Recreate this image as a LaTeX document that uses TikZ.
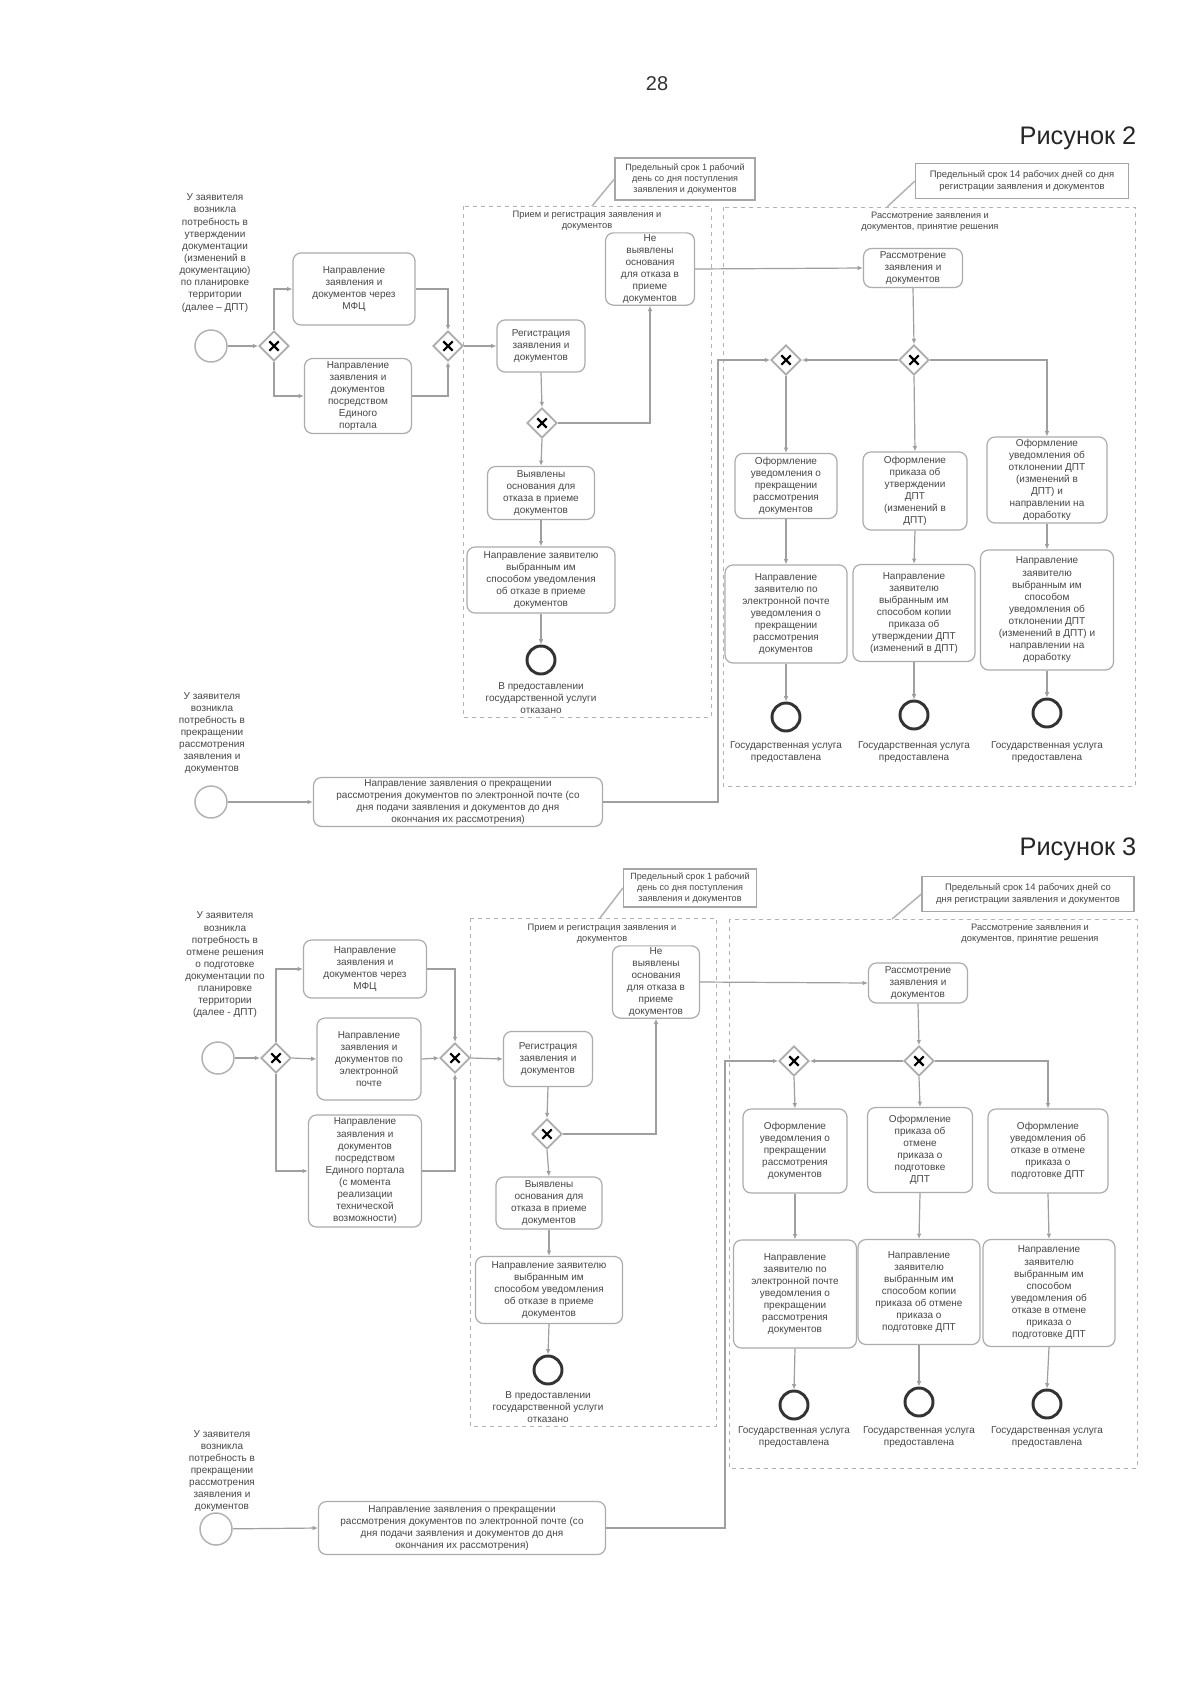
\documentclass[tikz,border=0pt]{standalone}
\usepackage{fontspec}
\setmainfont{Liberation Sans}
\usetikzlibrary{shapes.geometric,arrows.meta}

\begin{document}
\begin{tikzpicture}[x=0.75pt,y=-0.75pt,
    txt/.style={text=black!72, font=\fontsize{7.5pt}{9.1pt}\selectfont, align=center, inner sep=1pt},
    task/.style={txt, draw=gray!65, line width=0.9pt, rounded corners=6pt, fill=white},
    boxsize/.style 2 args={minimum width=#1*0.75pt, minimum height=#2*0.75pt},
    gate/.style={diamond, draw=gray!65, line width=1.3pt, fill=white, minimum size=30*0.75pt, inner sep=0pt,
        path picture={\draw[black, line width=1.6pt]
            ([shift={(-3.5pt,-3.5pt)}]path picture bounding box.center) -- ([shift={(3.5pt,3.5pt)}]path picture bounding box.center)
            ([shift={(-3.5pt,3.5pt)}]path picture bounding box.center) -- ([shift={(3.5pt,-3.5pt)}]path picture bounding box.center);}},
    startev/.style={circle, draw=gray!60, line width=1.1pt, minimum size=32*0.75pt, inner sep=0pt},
    stopev/.style={circle, draw=black!80, line width=2.2pt, minimum size=28*0.75pt, inner sep=0pt},
    flow/.style={draw=gray!75, line width=0.9pt, -{Latex[length=4pt,width=3.5pt]}},
    lane/.style={draw=gray!60, dashed, line width=0.7pt},
    lanetitle/.style={txt, font=\fontsize{7pt}{8.4pt}\selectfont},
    note/.style={txt, draw=gray!70, line width=0.9pt, fill=white, font=\fontsize{6.8pt}{8pt}\selectfont},
    assoc/.style={draw=gray!60, line width=1.1pt},
    ]
    \useasboundingbox (0,0) rectangle (1200,1696);
    \fill[white] (0,0) rectangle (1200,1696);

    % номер страницы
    \node[font=\fontsize{15pt}{18pt}\selectfont, text=black!80] (pnum) at (657,84) {28};

    % ===== Рисунок 2 =====
    \node[anchor=east, font=\fontsize{19pt}{22pt}\selectfont, text=black!85] (cap2) at (1141,138) {Рисунок 2};

    % дорожки
    \draw[lane] (463,206) rectangle (711,717);
    \node[lanetitle] (lt1) at (587,221) {Прием и регистрация заявления и\\документов};
    \draw[lane] (723,207) rectangle (1135,786);
    \node[lanetitle] (lt2) at (930,222) {Рассмотрение заявления и\\документов, принятие решения};

    % сроки
    \node[note, boxsize={140}{42}] (n1) at (685,179) {Предельный срок 1 рабочий\\день со дня поступления\\заявления и документов};
    \coordinate (a1) at (592,206);
    \draw[assoc] (n1.west) -- (a1);
    \node[note, boxsize={213}{35}, font=\fontsize{7.1pt}{8.4pt}\selectfont] (n2) at (1022,181) {Предельный срок 14 рабочих дней со дня\\регистрации заявления и документов};
    \coordinate (a2) at (887,207);
    \draw[assoc] (n2.west) -- (a2);

    % подача
    \node[txt] (q1) at (215,253) {У заявителя\\возникла\\потребность в\\утверждении\\документации\\(изменений в\\документацию)\\по планировке\\территории\\(далее – ДПТ)};
    \node[startev] (s1) at (211,346) {};
    \node[gate] (g1) at (274,346) {};
    \node[task, boxsize={122}{72}] (t1) at (354,289) {Направление\\заявления и\\документов через\\МФЦ};
    \node[task, boxsize={107}{75}] (t2) at (358,396) {Направление\\заявления и\\документов\\посредством\\Единого\\портала};
    \node[gate] (g2) at (448,346) {};
    \draw[flow] (s1) -- (g1);
    \draw[flow] (g1.north) |- (t1.west);
    \draw[flow] (g1.south) |- (t2.west);
    \draw[flow] (t1.east) -| (g2.north);
    \draw[flow] (t2.east) -| (g2.south);

    % прием и регистрация
    \node[task, boxsize={88}{52}] (reg) at (541,346) {Регистрация\\заявления и\\документов};
    \node[gate] (g3) at (542,423) {};
    \node[task, boxsize={89}{72}] (ok) at (650,269) {Не\\выявлены\\основания\\для отказа в\\приеме\\документов};
    \node[task, boxsize={107}{53}] (rej) at (541,493) {Выявлены\\основания для\\отказа в приеме\\документов};
    \node[task, boxsize={148}{66}] (ntf) at (541,580) {Направление заявителю\\выбранным им\\способом уведомления\\об отказе в приеме\\документов};
    \node[stopev] (e1) at (541,660) {};
    \node[txt] (l1) at (541,698) {В предоставлении\\государственной услуги\\отказано};
    \draw[flow] (g2.east) -- (reg.west);
    \draw[flow] (reg.south) -- (g3.north);
    \draw[flow] (g3.east) -| (ok.south);
    \draw[flow] (g3.south) -- (rej.north);
    \draw[flow] (rej.south) -- (ntf.north);
    \draw[flow] (ntf.south) -- (e1.north);

    % рассмотрение
    \node[task, boxsize={99}{39}] (rev) at (913,268) {Рассмотрение\\заявления и\\документов};
    \node[gate] (d1) at (914,360) {};
    \node[gate] (m1) at (786,360) {};
    \node[task, boxsize={102}{65}] (b1) at (786,486) {Оформление\\уведомления о\\прекращении\\рассмотрения\\документов};
    \node[task, boxsize={104}{78}] (b2) at (915,491) {Оформление\\приказа об\\утверждении\\ДПТ\\(изменений в\\ДПТ)};
    \node[task, boxsize={120}{86}] (b3) at (1047,480) {Оформление\\уведомления об\\отклонении ДПТ\\(изменений в\\ДПТ) и\\направлении на\\доработку};
    \node[task, boxsize={122}{98}] (b4) at (786,614) {Направление\\заявителю по\\электронной почте\\уведомления о\\прекращении\\рассмотрения\\документов};
    \node[task, boxsize={122}{97}] (b5) at (914,613) {Направление\\заявителю\\выбранным им\\способом копии\\приказа об\\утверждении ДПТ\\(изменений в ДПТ)};
    \node[task, boxsize={133}{120}] (b6) at (1047,610) {Направление\\заявителю\\выбранным им\\способом\\уведомления об\\отклонении ДПТ\\(изменений в ДПТ) и\\направлении на\\доработку};
    \node[stopev] (e2) at (786,717) {};
    \node[stopev] (e3) at (914,715) {};
    \node[stopev] (e4) at (1047,713) {};
    \node[txt] (l2) at (786,752) {Государственная услуга\\предоставлена};
    \node[txt] (l3) at (914,752) {Государственная услуга\\предоставлена};
    \node[txt] (l4) at (1047,752) {Государственная услуга\\предоставлена};
    \draw[flow] (ok.east) -- (rev.west);
    \draw[flow] (rev.south) -- (d1.north);
    \draw[flow] (d1.west) -- (m1.east);
    \draw[flow] (d1.south) -- (b2.north);
    \draw[flow] (d1.east) -| (b3.north);
    \draw[flow] (m1.south) -- (b1.north);
    \draw[flow] (b1.south) -- (b4.north);
    \draw[flow] (b2.south) -- (b5.north);
    \draw[flow] (b3.south) -- (b6.north);
    \draw[flow] (b4.south) -- (e2.north);
    \draw[flow] (b5.south) -- (e3.north);
    \draw[flow] (b6.south) -- (e4.north);

    % прекращение рассмотрения
    \node[txt] (q2) at (212,733) {У заявителя\\возникла\\потребность в\\прекращении\\рассмотрения\\заявления и\\документов};
    \node[startev] (s2) at (211,802) {};
    \node[task, boxsize={289}{49}] (req) at (458,802) {Направление заявления о прекращении\\рассмотрения документов по электронной почте (со\\дня подачи заявления и документов до дня\\окончания их рассмотрения)};
    \coordinate (k2) at (718,360);
    \draw[flow] (s2) -- (req.west);
    \draw[flow] (req.east) -| (k2) -- (m1.west);

    % ===== Рисунок 3 =====
    \node[anchor=east, font=\fontsize{19pt}{22pt}\selectfont, text=black!85] (cap3) at (1141,849) {Рисунок 3};

    % дорожки
    \draw[lane] (470,918) rectangle (716,1426);
    \node[lanetitle] (lt3) at (602,934) {Прием и регистрация заявления и\\документов};
    \draw[lane] (729,919) rectangle (1137,1468);
    \node[lanetitle] (lt4) at (1030,934) {Рассмотрение заявления и\\документов, принятие решения};

    % сроки
    \node[note, boxsize={133}{38}] (n3) at (690,888) {Предельный срок 1 рабочий\\день со дня поступления\\заявления и документов};
    \coordinate (a3) at (600,918);
    \draw[assoc] (n3.west) -- (a3);
    \node[note, boxsize={212}{35}, font=\fontsize{7.1pt}{8.4pt}\selectfont] (n4) at (1028,894) {Предельный срок 14 рабочих дней со\\дня регистрации заявления и документов};
    \coordinate (a4) at (892,919);
    \draw[assoc] (n4.west) -- (a4);

    % подача
    \node[txt] (q3) at (225,965) {У заявителя\\возникла\\потребность в\\отмене решения\\о подготовке\\документации по\\планировке\\территории\\(далее - ДПТ)};
    \node[startev] (s3) at (218,1058) {};
    \node[gate] (g4) at (276,1058) {};
    \node[task, boxsize={123}{58}] (t3) at (365,969) {Направление\\заявления и\\документов через\\МФЦ};
    \node[task, boxsize={104}{82}] (t4) at (369,1059) {Направление\\заявления и\\документов по\\электронной\\почте};
    \node[task, boxsize={113}{112}] (t5) at (365,1171) {Направление\\заявления и\\документов\\посредством\\Единого портала\\(с момента\\реализации\\технической\\возможности)};
    \node[gate] (g5) at (455,1058) {};
    \draw[flow] (s3) -- (g4);
    \draw[flow] (g4.north) |- (t3.west);
    \draw[flow] (g4.east) -- (t4.west);
    \draw[flow] (g4.south) |- (t5.west);
    \draw[flow] (t3.east) -| (g5.north);
    \draw[flow] (t4.east) -- (g5.west);
    \draw[flow] (t5.east) -| (g5.south);

    % прием и регистрация
    \node[task, boxsize={89}{55}] (reg2) at (548,1059) {Регистрация\\заявления и\\документов};
    \node[gate] (g6) at (547,1134) {};
    \node[task, boxsize={87}{69}] (ok2) at (656,982) {Не\\выявлены\\основания\\для отказа в\\приеме\\документов};
    \node[task, boxsize={106}{52}] (rej2) at (549,1203) {Выявлены\\основания для\\отказа в приеме\\документов};
    \node[task, boxsize={147}{67}] (ntf2) at (549,1290) {Направление заявителю\\выбранным им\\способом уведомления\\об отказе в приеме\\документов};
    \node[stopev] (e5) at (548,1370) {};
    \node[txt] (l5) at (548,1407) {В предоставлении\\государственной услуги\\отказано};
    \draw[flow] (g5.east) -- (reg2.west);
    \draw[flow] (reg2.south) -- (g6.north);
    \draw[flow] (g6.east) -| (ok2.south);
    \draw[flow] (g6.south) -- (rej2.north);
    \draw[flow] (rej2.south) -- (ntf2.north);
    \draw[flow] (ntf2.south) -- (e5.north);

    % рассмотрение
    \node[task, boxsize={99}{40}] (rev2) at (918,983) {Рассмотрение\\заявления и\\документов};
    \node[gate] (d2) at (919,1061) {};
    \node[gate] (m2) at (794,1061) {};
    \node[task, boxsize={104}{84}] (c1) at (795,1151) {Оформление\\уведомления о\\прекращении\\рассмотрения\\документов};
    \node[task, boxsize={105}{85}] (c2) at (920,1150) {Оформление\\приказа об\\отмене\\приказа о\\подготовке\\ДПТ};
    \node[task, boxsize={120}{84}] (c3) at (1048,1151) {Оформление\\уведомления об\\отказе в отмене\\приказа о\\подготовке ДПТ};
    \node[task, boxsize={123}{108}] (c4) at (795,1294) {Направление\\заявителю по\\электронной почте\\уведомления о\\прекращении\\рассмотрения\\документов};
    \node[task, boxsize={122}{105}] (c5) at (919,1292) {Направление\\заявителю\\выбранным им\\способом копии\\приказа об отмене\\приказа о\\подготовке ДПТ};
    \node[task, boxsize={132}{107}] (c6) at (1049,1293) {Направление\\заявителю\\выбранным им\\способом\\уведомления об\\отказе в отмене\\приказа о\\подготовке ДПТ};
    \node[stopev] (e6) at (794,1405) {};
    \node[stopev] (e7) at (919,1402) {};
    \node[stopev] (e8) at (1047,1404) {};
    \node[txt] (l6) at (794,1437) {Государственная услуга\\предоставлена};
    \node[txt] (l7) at (919,1437) {Государственная услуга\\предоставлена};
    \node[txt] (l8) at (1047,1437) {Государственная услуга\\предоставлена};
    \draw[flow] (ok2.east) -- (rev2.west);
    \draw[flow] (rev2.south) -- (d2.north);
    \draw[flow] (d2.west) -- (m2.east);
    \draw[flow] (d2.south) -- (c2.north);
    \draw[flow] (d2.east) -| (c3.north);
    \draw[flow] (m2.south) -- (c1.north);
    \draw[flow] (c1.south) -- (c4.north);
    \draw[flow] (c2.south) -- (c5.north);
    \draw[flow] (c3.south) -- (c6.north);
    \draw[flow] (c4.south) -- (e6.north);
    \draw[flow] (c5.south) -- (e7.north);
    \draw[flow] (c6.south) -- (e8.north);

    % прекращение рассмотрения
    \node[txt] (q4) at (222,1471) {У заявителя\\возникла\\потребность в\\прекращении\\рассмотрения\\заявления и\\документов};
    \node[startev] (s4) at (216,1529) {};
    \node[task, boxsize={287}{53}] (req2) at (462,1528) {Направление заявления о прекращении\\рассмотрения документов по электронной почте (со\\дня подачи заявления и документов до дня\\окончания их рассмотрения)};
    \coordinate (k4) at (725,1061);
    \draw[flow] (s4) -- (req2.west);
    \draw[flow] (req2.east) -| (k4) -- (m2.west);
\end{tikzpicture}
\end{document}
